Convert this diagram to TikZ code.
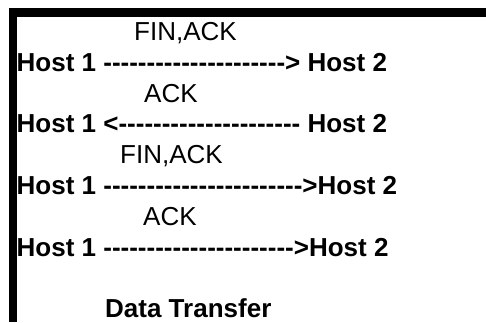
\documentclass[tikz,border=0pt]{standalone}
\usepackage{fontspec}
\setmainfont{Liberation Sans}[Ligatures=TeXOff]
\usepackage{tikz}

\begin{document}
\begin{tikzpicture}[x=1pt,y=-1pt,
    msg/.style={anchor=base west, inner sep=0pt, font=\fontsize{26}{31}\selectfont},
    hostrow/.style={msg, font=\fontsize{26}{31}\selectfont\bfseries}]
                \useasboundingbox (0,0) rectangle (486,322);

                % Frame
                \draw[line width=8.5pt] (13,322) -- (13,12.5) -- (486,12.5);

                % Labels
                \node[msg] (fin1) at (134,40.3) {FIN,ACK};
                \node[msg] (ack1) at (144,102) {ACK};
                \node[msg] (fin2) at (120,163.5) {FIN,ACK};
                \node[msg] (ack2) at (143,225) {ACK};

                % Rows
                \node[hostrow] (row1) at (16.5,71) {Host 1 ---------------------> Host 2};
                \node[hostrow] (row2) at (16.5,132.7) {Host 1 <--------------------- Host 2};
                \node[hostrow] (row3) at (16.5,194.3) {Host 1 ----------------------->Host 2};
                \node[hostrow] (row4) at (16.5,256) {Host 1 ---------------------->Host 2};

                % Title
                \node[hostrow] (title) at (105,317.3) {Data Transfer};
            \end{tikzpicture}
\end{document}
